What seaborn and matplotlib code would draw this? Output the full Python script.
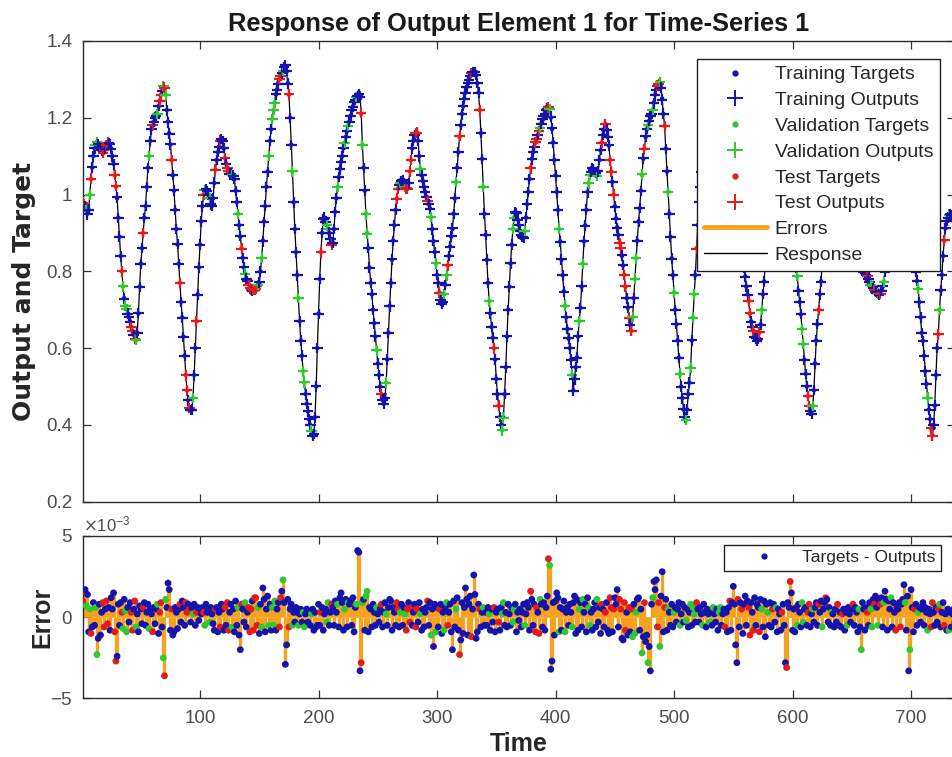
import numpy as np
import pandas as pd
import seaborn as sns
import matplotlib
matplotlib.use("Agg")
import matplotlib.pyplot as plt
from matplotlib.lines import Line2D
from matplotlib.ticker import ScalarFormatter

# target values, one per time step
targets = [
    0.98, 0.975, 0.97, 0.96, 0.95, 0.96, 1.00, 1.04, 1.07, 1.10,
    1.12, 1.13, 1.135, 1.13, 1.125, 1.12, 1.115, 1.11, 1.115, 1.12,
    1.13, 1.135, 1.135, 1.13, 1.12, 1.10, 1.08, 1.05, 1.02, 0.99,
    0.94, 0.89, 0.84, 0.80, 0.76, 0.73, 0.71, 0.70, 0.69, 0.68,
    0.67, 0.655, 0.645, 0.635, 0.625, 0.62, 0.64, 0.69, 0.76, 0.82,
    0.86, 0.90, 0.94, 0.97, 1.02, 1.07, 1.10, 1.14, 1.17, 1.18,
    1.19, 1.20, 1.205, 1.21, 1.23, 1.245, 1.26, 1.27, 1.28, 1.275,
    1.26, 1.22, 1.19, 1.16, 1.13, 1.09, 1.05, 1.01, 0.96, 0.91,
    0.87, 0.82, 0.77, 0.72, 0.68, 0.63, 0.58, 0.53, 0.49, 0.465,
    0.445, 0.438, 0.44, 0.47, 0.53, 0.60, 0.67, 0.74, 0.81, 0.87,
    0.93, 0.97, 1.00, 1.01, 1.015, 1.01, 1.00, 0.99, 0.975, 0.97,
    0.99, 1.03, 1.065, 1.09, 1.11, 1.125, 1.14, 1.145, 1.14, 1.12,
    1.095, 1.08, 1.07, 1.06, 1.055, 1.055, 1.05, 1.05, 1.04, 1.01,
    0.98, 0.95, 0.92, 0.89, 0.86, 0.835, 0.81, 0.795, 0.78, 0.775,
    0.765, 0.755, 0.752, 0.75, 0.75, 0.752, 0.755, 0.76, 0.765, 0.77,
    0.80, 0.835, 0.88, 0.93, 0.97, 1.02, 1.06, 1.10, 1.14, 1.17,
    1.197, 1.22, 1.24, 1.26, 1.274, 1.29, 1.30, 1.31, 1.317, 1.325,
    1.332, 1.335, 1.32, 1.29, 1.26, 1.20, 1.13, 1.06, 0.98, 0.91,
    0.85, 0.79, 0.73, 0.67, 0.62, 0.58, 0.54, 0.51, 0.48, 0.455,
    0.435, 0.415, 0.40, 0.385, 0.372, 0.375, 0.42, 0.50, 0.60, 0.69,
    0.78, 0.85, 0.90, 0.935, 0.94, 0.93, 0.92, 0.91, 0.90, 0.885,
    0.87, 0.875, 0.91, 0.955, 0.99, 1.02, 1.045, 1.067, 1.085, 1.10,
    1.12, 1.135, 1.15, 1.165, 1.18, 1.19, 1.205, 1.22, 1.23, 1.24,
    1.248, 1.255, 1.26, 1.266, 1.25, 1.21, 1.13, 1.07, 1.01, 0.95,
    0.90, 0.86, 0.81, 0.77, 0.74, 0.70, 0.665, 0.63, 0.595, 0.56,
    0.53, 0.50, 0.48, 0.465, 0.455, 0.47, 0.51, 0.57, 0.64, 0.71,
    0.77, 0.83, 0.88, 0.92, 0.96, 0.99, 1.015, 1.025, 1.03, 1.035,
    1.037, 1.03, 1.02, 1.015, 1.015, 1.03, 1.06, 1.09, 1.12, 1.14,
    1.155, 1.16, 1.162, 1.14, 1.10, 1.067, 1.05, 1.035, 1.02, 1.007,
    0.995, 0.985, 0.975, 0.964, 0.94, 0.91, 0.878, 0.85, 0.82, 0.791,
    0.77, 0.745, 0.725, 0.714, 0.72, 0.74, 0.765, 0.79, 0.815, 0.84,
    0.865, 0.89, 0.91, 0.95, 0.99, 1.033, 1.07, 1.11, 1.15, 1.18,
    1.21, 1.23, 1.25, 1.265, 1.28, 1.29, 1.30, 1.31, 1.315, 1.32,
    1.322, 1.32, 1.31, 1.29, 1.266, 1.22, 1.16, 1.093, 1.02, 0.95,
    0.895, 0.83, 0.77, 0.722, 0.69, 0.655, 0.627, 0.60, 0.57, 0.52,
    0.48, 0.45, 0.42, 0.40, 0.386, 0.42, 0.48, 0.55, 0.63, 0.70,
    0.76, 0.82, 0.87, 0.91, 0.94, 0.955, 0.95, 0.935, 0.92, 0.905,
    0.895, 0.89, 0.888, 0.905, 0.94, 0.975, 1.007, 1.04, 1.07, 1.093,
    1.11, 1.125, 1.135, 1.145, 1.155, 1.165, 1.175, 1.185, 1.195, 1.205,
    1.21, 1.22, 1.225, 1.231, 1.225, 1.20, 1.17, 1.136, 1.09, 1.05,
    1.007, 0.96, 0.91, 0.878, 0.83, 0.79, 0.748, 0.71, 0.68, 0.65,
    0.625, 0.60, 0.57, 0.53, 0.49, 0.52, 0.55, 0.576, 0.63, 0.67,
    0.705, 0.76, 0.82, 0.878, 0.92, 0.96, 1.007, 1.03, 1.05, 1.06,
    1.067, 1.065, 1.06, 1.055, 1.05, 1.06, 1.09, 1.115, 1.136, 1.155,
    1.17, 1.184, 1.17, 1.15, 1.127, 1.09, 1.06, 1.033, 1.00, 0.97,
    0.938, 0.915, 0.895, 0.875, 0.86, 0.84, 0.815, 0.791, 0.76, 0.73,
    0.705, 0.68, 0.66, 0.645, 0.68, 0.73, 0.78, 0.834, 0.88, 0.93,
    0.964, 1.01, 1.05, 1.093, 1.12, 1.15, 1.17, 1.179, 1.19, 1.20,
    1.21, 1.222, 1.24, 1.26, 1.275, 1.283, 1.288, 1.291, 1.28, 1.25,
    1.21, 1.179, 1.12, 1.06, 1.007, 0.95, 0.89, 0.834, 0.79, 0.745,
    0.70, 0.662, 0.62, 0.575, 0.533, 0.50, 0.47, 0.44, 0.42, 0.412,
    0.44, 0.48, 0.51, 0.55, 0.62, 0.68, 0.74, 0.79, 0.86, 0.92,
    0.981, 1.02, 1.06, 1.09, 1.12, 1.14, 1.16, 1.18, 1.19, 1.20,
    1.21, 1.22, 1.225, 1.23, 1.235, 1.24, 1.245, 1.25, 1.25, 1.252,
    1.255, 1.255, 1.255, 1.25, 1.245, 1.23, 1.20, 1.16, 1.12, 1.08,
    1.04, 1.00, 0.96, 0.93, 0.90, 0.87, 0.85, 0.83, 0.81, 0.787,
    0.76, 0.74, 0.722, 0.69, 0.67, 0.655, 0.645, 0.63, 0.625, 0.619,
    0.625, 0.64, 0.662, 0.70, 0.74, 0.774, 0.82, 0.87, 0.92, 0.97,
    1.02, 1.07, 1.11, 1.15, 1.18, 1.20, 1.21, 1.22, 1.215, 1.20,
    1.18, 1.15, 1.12, 1.09, 1.06, 1.03, 1.00, 0.97, 0.94, 0.91,
    0.87, 0.84, 0.81, 0.787, 0.75, 0.72, 0.688, 0.65, 0.61, 0.57,
    0.533, 0.50, 0.475, 0.45, 0.435, 0.429, 0.45, 0.49, 0.56, 0.62,
    0.662, 0.70, 0.74, 0.774, 0.82, 0.87, 0.92, 0.97, 1.02, 1.07,
    1.11, 1.15, 1.18, 1.21, 1.23, 1.25, 1.26, 1.27, 1.275, 1.28,
    1.28, 1.28, 1.275, 1.265, 1.25, 1.23, 1.20, 1.16, 1.12, 1.08,
    1.04, 1.00, 0.96, 0.93, 0.90, 0.875, 0.85, 0.83, 0.815, 0.80,
    0.795, 0.79, 0.787, 0.78, 0.772, 0.765, 0.76, 0.757, 0.752, 0.748,
    0.744, 0.741, 0.74, 0.742, 0.75, 0.76, 0.774, 0.80, 0.84, 0.88,
    0.93, 0.98, 1.03, 1.07, 1.11, 1.14, 1.16, 1.18, 1.19, 1.20,
    1.20, 1.195, 1.18, 1.16, 1.13, 1.10, 1.06, 1.02, 0.98, 0.94,
    0.90, 0.86, 0.83, 0.80, 0.775, 0.755, 0.72, 0.68, 0.64, 0.619,
    0.58, 0.54, 0.507, 0.47, 0.44, 0.415, 0.39, 0.373, 0.40, 0.45,
    0.53, 0.60, 0.636, 0.70, 0.75, 0.791, 0.84, 0.88, 0.912, 0.93,
    0.94, 0.947, 0.95, 0.945, 0.94, 0.935, 0.93,
]

# targets - outputs, in units of 1e-4
errors_e4 = [
    10, 16, 17, 7, 14, -9, 5, -10, -6, 9,
    -5, 6, -23, -13, 8, -11, 3, 9, -6, 5,
    10, -4, 6, -8, 12, 5, 15, -9, -27, -24,
    8, -5, 9, 3, -7, 11, 4, -9, 6, -3,
    9, 3, -8, 5, 10, -6, 2, -9, 7, 5,
    -4, 6, 9, -5, 3, 8, -7, 5, 2, -9,
    6, -4, 5, 8, -10, 3, 9, -6, -25, -36,
    11, 6, 21, 17, -8, 5, -11, -9, 6, 3,
    -7, 5, 8, -3, 10, 6, -5, 9, 3, 8,
    5, -3, 6, 2, 8, -5, 3, 6, -2, 5,
    2, 6, 3, -5, 8, 3, 5, -3, 6, 2,
    -4, -8, 5, 6, -9, 3, -6, 8, 5, -8,
    6, -5, 9, -8, 3, 8, -6, 5, -9, 10,
    -5, 6, -11, -20, 8, 5, -3, 9, -6, 3,
    6, -9, 5, 10, -8, 12, 12, -5, 6, -10,
    8, -6, 18, 11, -9, 5, 13, -5, 8, -8,
    6, -5, 10, -8, 5, 9, -6, 12, 16, 23,
    9, -29, -17, 11, -6, 5, 8, -5, 3, -3,
    6, 3, -5, 2, 5, -3, 3, -6, 2, 5,
    -3, 3, -5, 2, 5, -8, 3, -6, -5, 8,
    -5, 3, 6, -8, 2, 5, -3, 9, -5, 3,
    8, 6, -5, 10, 3, 8, -6, 12, 15, 9,
    -8, 5, 11, -6, 9, 8, 10, -5, 12, -9,
    6, 8, 41, 40, -33, -28, 9, 11, -8, 13,
    16, -9, 6, 5, -6, 8, 3, -5, 6, 2,
    -3, 5, 8, -6, 3, 9, 2, -5, 6, 11,
    10, -8, 6, 3, -5, 9, 5, -6, 3, 8,
    -5, 6, 2, -8, 5, 9, -3, 6, -5, 3,
    8, -6, 5, -3, 9, 2, -8, 5, -6, 3,
    6, 10, -5, 9, -11, 5, -18, 8, -9, 6,
    -6, 5, 8, -10, 3, -8, 6, 9, -5, 3,
    8, -9, -20, 10, -6, 5, 12, -8, -23, -14,
    9, -10, 6, 18, 11, -11, 8, 13, -12, 5,
    26, 14, -13, -9, 8, 5, -6, 3, 6, -5,
    3, -5, 6, 2, -8, 5, -3, 6, -9, 3,
    5, -3, -8, 6, 2, 9, -5, 3, -6, 8,
    2, -5, 6, -3, 5, 8, -9, 3, -2, 5,
    -6, 3, 8, -5, 2, 9, 6, -8, 16, 11,
    -5, 8, -9, 6, 3, -10, 11, 8, -6, 9,
    -8, 6, 13, 36, 32, -32, -27, 9, -11, 10,
    15, 12, -9, 6, -8, 5, 10, -9, 3, 6,
    -5, 8, 3, -6, 9, 13, -10, 11, -8, 5,
    9, -6, 11, 3, 8, -9, 12, 6, -5, 3,
    -8, 5, 9, -6, 11, -3, 6, -10, 8, 5,
    -6, 3, 9, -8, -10, 12, 6, -9, 5, 12,
    8, 17, -6, 11, 5, -13, -14, 9, -8, 3,
    -11, 6, -9, 5, -12, 8, -10, 3, 11, 12,
    -8, 5, -22, -12, 9, -15, -11, -28, -18, -33,
    8, 12, 22, 17, 23, -6, 9, -18, 13, 28,
    -9, 6, 11, -8, 5, 3, -5, 8, -6, 3,
    6, -3, 5, 9, -5, 2, 8, -3, 6, -2,
    5, -6, 3, 8, -5, 6, 2, -3, 9, 5,
    -3, 6, 2, -5, 8, 3, -6, 5, 2, -3,
    3, -5, 6, 2, -3, 5, -8, 3, 6, -5,
    2, 5, -6, 3, -9, 6, 10, -8, 9, 19,
    8, -17, -28, 11, -6, 9, 5, -10, 8, 13,
    -5, 10, 6, -11, 9, 3, -8, 12, -5, 8,
    6, -9, 11, 5, -6, 10, -12, 8, 3, -5,
    9, -6, 5, 8, -3, 6, -9, 5, 2, -8,
    3, 8, -5, -28, -31, 9, 6, 22, 15, -8,
    5, -9, 6, -5, 8, 3, -6, 9, -3, 5,
    6, -5, 3, 8, -6, 2, 5, -3, 6, 9,
    -5, 8, 3, 10, -6, 5, 9, 12, 11, -3,
    6, -5, 3, 2, -6, 5, -3, 8, -5, 3,
    -6, 2, 5, -8, 3, -5, 6, 2, -3, 5,
    8, -5, 6, 3, -9, 5, -6, -20, 9, 5,
    -8, 6, 3, -5, 9, 5, -6, 11, 8, 13,
    6, -5, 10, 8, 12, -6, 9, 16, 11, -8,
    10, 5, 12, -6, 9, 3, -8, 6, 5, 9,
    -6, 8, 11, 20, 9, -8, 13, -33, -20, 17,
    6, -9, 5, 8, -5, 3, 6, -3, 5, 9,
    -5, 6, 3, -8, 5, 2, -6, 9, 3, -5,
    6, -3, 5, 8, -6, 3, 9, -5, 2, -8,
    5, -8, 3, -6, 2, 5, -3,
]

# data division per time step: t = training, v = validation, s = test
subset_codes = "".join([
    "sstvttvstt", "tvvttttsst", "sstttttsst", "tttsvtvvtt", "tsstsvtttt",
    "tsttttvtts", "tttvtsstvs", "vttttstttt", "ttsttttsst", "sttvttsttt",
    "ttsvtttvtt", "ttstttsttt", "stssttvttt", "tvttsttvtt", "ssstssssvt",
    "tvtttttvtt", "vvvtttsstv", "ttttsttvtt", "ttvtttvvtt", "tttvtttttt",
    "tsttttvvtt", "sttttvtttt", "tvttvttttt", "tvtttsvttv", "vtttttttvt",
    "ttstttvttt", "tttttsstvt", "ttvsstsstt", "tssttvtttt", "tsttvtttvt",
    "tstttvtvst", "tttttvttst", "ttttttttst", "tttttsttvt", "tttvtttstt",
    "tsttvvtttt", "tttvvttttt", "tttvttttst", "ttsstsvttt", "tttsvttttt",
    "ttvttttvtt", "tttvtttttv", "ttvttttvvt", "ttttvtttst", "tstttsstst",
    "tttssttsst", "tstsvtvvtt", "ttvtsttvtt", "tvtttssvtt", "tsttvttttv",
    "ttttvttttv", "tttvtvvtst", "tttvtttttv", "ttvttttvvt", "ttstttsttt",
    "tttsttsttt", "ttssttsttt", "tstvttttvt", "ttsttvtttt", "stttsttstt",
    "tttvtttvvt", "ttssttvttt", "tsttvttstt", "ttvttttstt", "tstttvtttt",
    "sttttvtvtt", "ttsttvvtst", "tvtsttvttt", "ttvtttsttt", "stttvtttvt",
    "ttsttvtttt", "tttvttsstt", "ttsvtttstt", "tvtttttttt",
])

subset_names = {"t": "Training", "v": "Validation", "s": "Test"}

BLUE = "#1414ac"
GREEN = "#2fc82f"
RED = "#e31b1b"
ORANGE = "#f6a21e"
palette = {"Training": BLUE, "Validation": GREEN, "Test": RED}

n = len(targets)
time = np.arange(1, n + 1)
err = np.array(errors_e4[:n]) * 1e-4
df = pd.DataFrame({
    "time": time,
    "target": targets,
    "output": np.array(targets) - err,
    "error": err,
    "subset": [subset_names[c] for c in subset_codes[:n]],
})

sns.set_style("white")
plt.rcParams["font.family"] = ["Liberation Sans", "DejaVu Sans"]
plt.rcParams["axes.unicode_minus"] = False

fig = plt.figure(figsize=(9.53, 7.57), dpi=100)
ax1 = fig.add_axes([0.0868, 0.3373, 0.9152, 0.6086])
ax2 = fig.add_axes([0.0868, 0.0773, 0.9152, 0.2147])

# --- response panel ---
sns.lineplot(data=df, x="time", y="output", color="black", lw=0.9,
             estimator=None, sort=False, ax=ax1, zorder=2)
sns.scatterplot(data=df, x="time", y="target", hue="subset", palette=palette,
                marker="o", s=10, linewidth=0, legend=False, ax=ax1, zorder=3)
sns.scatterplot(data=df, x="time", y="output", hue="subset", palette=palette,
                marker="+", s=58, linewidth=1.6, legend=False, ax=ax1, zorder=4)

ax1.set_xlim(time[0], time[-1])
ax1.set_ylim(0.2, 1.4)
ax1.set_xticks([100, 200, 300, 400, 500, 600, 700])
ax1.set_xticklabels([])
ax1.set_yticks([0.2, 0.4, 0.6, 0.8, 1.0, 1.2, 1.4])
ax1.set_yticklabels(["0.2", "0.4", "0.6", "0.8", "1", "1.2", "1.4"])
ax1.set_xlabel("")
ax1.set_ylabel("Output and Target", fontsize=18, fontweight="bold", color="#262626",
               family=["DejaVu Sans"])
ax1.yaxis.set_label_coords(-0.054, 0.457)
ax1.set_title("Response of Output Element 1 for Time-Series 1",
              fontsize=18.3, fontweight="bold", color="#1a1a1a", pad=7)

handles = [
    Line2D([], [], ls="none", marker=".", ms=7, color=BLUE),
    Line2D([], [], ls="none", marker="+", ms=11, mew=1.4, color=BLUE),
    Line2D([], [], ls="none", marker=".", ms=7, color=GREEN),
    Line2D([], [], ls="none", marker="+", ms=11, mew=1.4, color=GREEN),
    Line2D([], [], ls="none", marker=".", ms=7, color=RED),
    Line2D([], [], ls="none", marker="+", ms=11, mew=1.4, color=RED),
    Line2D([], [], color=ORANGE, lw=3.5),
    Line2D([], [], color="black", lw=1.0),
]
labels = ["Training Targets", "Training Outputs", "Validation Targets",
          "Validation Outputs", "Test Targets", "Test Outputs", "Errors", "Response"]
leg1 = ax1.legend(handles, labels, loc="upper right",
                  bbox_to_anchor=(940 / 953, 1 - 59 / 757), bbox_transform=fig.transFigure,
                  fontsize=14, frameon=True, fancybox=False, framealpha=1,
                  edgecolor="#202020", borderpad=0.35, borderaxespad=0,
                  handlelength=3.25, handletextpad=0.4, labelspacing=0.42)
leg1.get_frame().set_linewidth(1.0)
for txt in leg1.get_texts():
    txt.set_color("#262626")

# --- error panel ---
ax2.vlines(df["time"], 0, df["error"], colors=ORANGE, lw=2.4, zorder=2)
sns.scatterplot(data=df, x="time", y="error", hue="subset", palette=palette,
                marker="o", s=24, linewidth=0, legend=False, ax=ax2, zorder=3)

ax2.set_xlim(time[0], time[-1])
ax2.set_ylim(-5e-3, 5e-3)
ax2.set_xticks([100, 200, 300, 400, 500, 600, 700])
ax2.set_yticks([-5e-3, 0, 5e-3])
fmt = ScalarFormatter(useMathText=True)
fmt.set_powerlimits((-2, 2))
ax2.yaxis.set_major_formatter(fmt)
ax2.yaxis.get_offset_text().set_fontsize(12)
ax2.yaxis.get_offset_text().set_color("#555555")
ax2.set_xlabel("Time", fontsize=18, fontweight="bold", color="#262626")
ax2.xaxis.set_label_coords(0.5, -0.207)
ax2.set_ylabel("Error", fontsize=18, fontweight="bold", color="#262626")
ax2.yaxis.set_label_coords(-0.032, 0.5)

leg2 = ax2.legend([Line2D([], [], ls="none", marker=".", ms=7, color=BLUE)],
                  ["Targets - Outputs"], loc="upper right",
                  bbox_to_anchor=(941 / 953, 1 - 545 / 757), bbox_transform=fig.transFigure,
                  fontsize=12.5, frameon=True, fancybox=False, framealpha=1,
                  edgecolor="#202020", borderpad=0.3, borderaxespad=0,
                  handlelength=4.0, handletextpad=0.2)
leg2.get_frame().set_linewidth(1.0)
for txt in leg2.get_texts():
    txt.set_color("#262626")

for ax in (ax1, ax2):
    ax.tick_params(direction="in", top=True, right=True, bottom=True, left=True,
                   length=6, width=0.9, color="#333333", labelcolor="#4d4d4d",
                   labelsize=13.5)
    ax.tick_params(axis="y", pad=7.5)
    ax.tick_params(axis="x", pad=8)
    for sp in ax.spines.values():
        sp.set_color("#2a2a2a")
        sp.set_linewidth(1.0)

fig.savefig("out.png", dpi=100)
